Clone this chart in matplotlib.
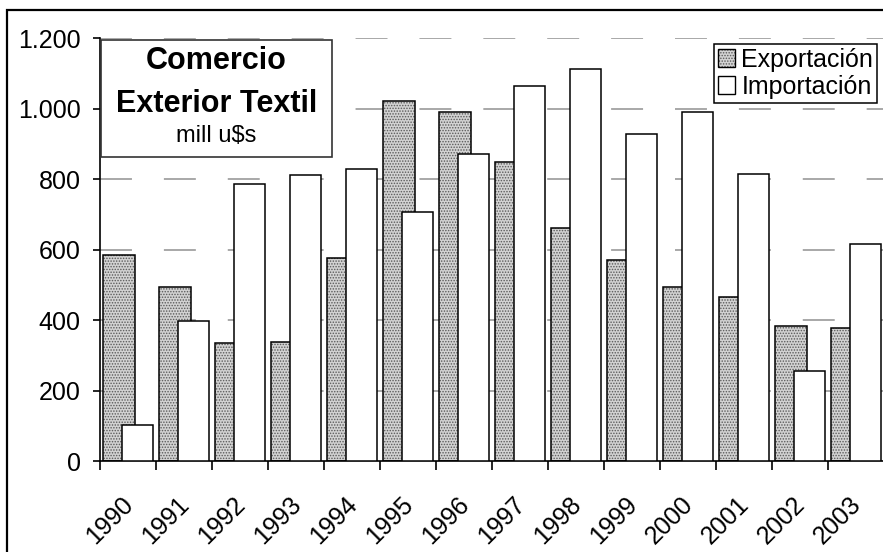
import numpy as np
import matplotlib.pyplot as plt
import matplotlib.transforms as mtransforms
from matplotlib.patches import Patch, Rectangle
from matplotlib.ticker import FuncFormatter
from matplotlib.legend_handler import HandlerTuple

plt.rcParams['font.family'] = ['Liberation Sans', 'DejaVu Sans']
plt.rcParams['lines.scale_dashes'] = False
plt.rcParams['hatch.linewidth'] = 0.7

# datos (millones de u$s)
anios = ['1990', '1991', '1992', '1993', '1994', '1995', '1996',
         '1997', '1998', '1999', '2000', '2001', '2002', '2003']
exportacion = [584, 494, 335, 338, 576, 1023, 990, 848, 661, 570, 494, 465, 383, 377]
importacion = [102, 397, 786, 811, 828, 706, 871, 1064, 1114, 928, 990, 814, 255, 616]

W, H = 883, 552
fig = plt.figure(figsize=(W / 100, H / 100), dpi=100)
ax = fig.add_axes([100 / W, 1 - 461.3 / H, 784 / W, (461.3 - 38.3) / H])

x = np.arange(len(anios))
ancho = 0.5625
gris = '#d2d2d2'
trama = '#5a5a5a'

# grilla punteada detras de las barras
for v in range(200, 1201, 200):
    ax.axhline(v, color='#999999', lw=1.2, ls=(0, (23, 23)), zorder=0)

# exportacion: trama punteada gris + borde negro
ax.bar(x - 0.165, exportacion, ancho, color=gris, edgecolor=trama,
       hatch='......', linewidth=0, zorder=2)
ax.bar(x - 0.165, exportacion, ancho, fill=False, edgecolor='black',
       linewidth=1.1, zorder=2)
# importacion: blanca, encima
ax.bar(x + 0.17, importacion, ancho, color='white', edgecolor='black',
       linewidth=1.1, zorder=3)

ax.set_xlim(-0.5, 13.5)
ax.set_ylim(0, 1200)

for s in ['top', 'right']:
    ax.spines[s].set_visible(False)
ax.spines['left'].set_linewidth(1.2)
ax.spines['bottom'].set_linewidth(1.2)

ax.set_yticks(range(0, 1201, 200))
ax.yaxis.set_major_formatter(FuncFormatter(lambda v, p: f'{int(v):,}'.replace(',', '.')))
ax.tick_params(axis='y', direction='out', length=5, width=1.2, pad=9, labelsize=18)

ax.set_xticks(np.arange(-0.5, 13, 1.0))
ax.set_xticklabels([])
ax.tick_params(axis='x', which='major', direction='out', length=6.5, width=1.2)
ax.set_xticks(x, minor=True)
ax.set_xticklabels(anios, minor=True, rotation=45, ha='right', va='top',
                   rotation_mode='anchor', fontsize=18)
ax.tick_params(axis='x', which='minor', length=0, pad=22)
desplaz = mtransforms.ScaledTranslation(-7 / 100, 0, fig.dpi_scale_trans)
for lab in ax.get_xticklabels(minor=True):
    lab.set_transform(lab.get_transform() + desplaz)

# cuadro del titulo
fig.patches.append(Rectangle((101 / W, 1 - 157 / H), 231 / W, 117 / H,
                             transform=fig.transFigure, facecolor='white',
                             edgecolor='#333333', lw=1.2, zorder=5))
cx = 216.5 / W
fig.text(cx, 1 - 69 / H, 'Comercio', ha='center', va='baseline',
         fontsize=22, fontweight='bold', zorder=6)
fig.text(cx, 1 - 112 / H, 'Exterior Textil', ha='center', va='baseline',
         fontsize=22, fontweight='bold', zorder=6)
fig.text(cx, 1 - 142 / H, 'mill u$s', ha='center', va='baseline',
         fontsize=17, zorder=6)

# leyenda
h_exp = (Patch(facecolor=gris, edgecolor=trama, hatch='......', lw=0),
         Patch(fill=False, edgecolor='black', lw=1.0))
h_imp = Patch(facecolor='white', edgecolor='black', lw=1.0)
leg = fig.legend([h_exp, h_imp], ['Exportación', 'Importación'],
                 handler_map={tuple: HandlerTuple(ndivide=1, pad=0)},
                 loc='upper right', bbox_to_anchor=(877 / W, 1 - 44 / H),
                 fontsize=18, frameon=True, fancybox=False, shadow=False,
                 handlelength=0.7, handleheight=0.7, handletextpad=0.25,
                 borderpad=0.15, labelspacing=0.12, borderaxespad=0)
leg.get_frame().set_edgecolor('black')
leg.get_frame().set_linewidth(1.1)
leg.get_frame().set_alpha(None)
leg.set_zorder(6)

# marco exterior del grafico
fig.patches.append(Rectangle((7.5 / W, -0.1), 1.2, 1 - 9.5 / H + 0.1,
                             transform=fig.transFigure, fill=False,
                             edgecolor='black', lw=1.6))

fig.savefig('out.png', dpi=100)
